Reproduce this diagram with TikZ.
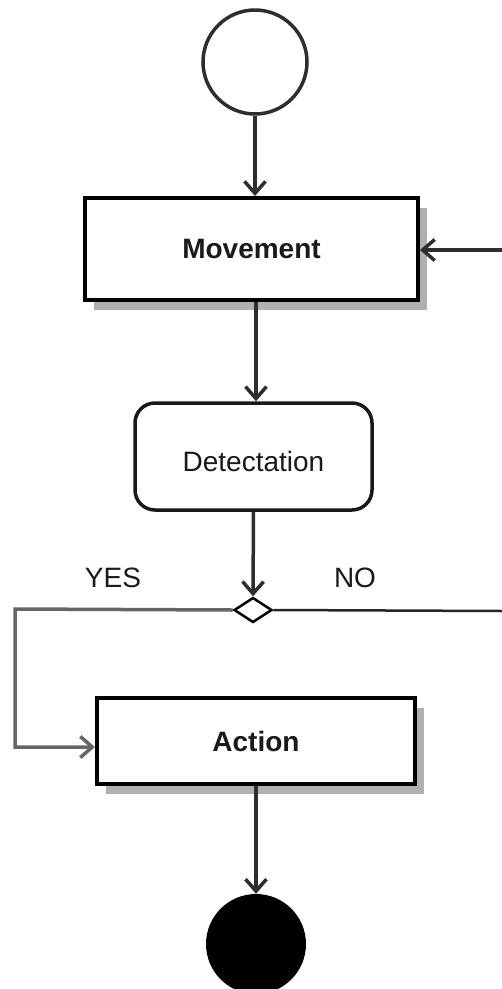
\documentclass[tikz,border=0pt]{standalone}
\usepackage{fontspec}
\setmainfont{Liberation Sans}
\usetikzlibrary{arrows.meta,shapes.geometric,shadows}
\definecolor{ink}{HTML}{1A1A1A}
\definecolor{wire}{HTML}{2E2E2E}
\definecolor{shade}{HTML}{B0B0B0}
\begin{document}
\begin{tikzpicture}[x=1pt,y=-1pt,
  font=\fontsize{28}{33}\selectfont, text=ink,
  boxshadow/.style={drop shadow={shadow xshift=9pt,shadow yshift=-10pt,fill=shade,opacity=1}},
  actbox/.style={draw=black,line width=4pt,fill=white,inner sep=0pt,boxshadow,font=\fontsize{28}{33}\selectfont\bfseries},
  roundbox/.style={draw=black!90,line width=3.5pt,fill=white,rounded corners=20pt,inner sep=0pt},
  flow/.style={draw=wire,line width=3.5pt,-{Straight Barb[length=12pt,width=21pt,line width=3.5pt]}},
  yesflow/.style={draw=black!60,line width=3.5pt,-{Straight Barb[length=12pt,width=21pt,line width=3.5pt]}},
  noline/.style={draw=black!85,line width=2.5pt},
  lbl/.style={inner sep=0pt}]
  \useasboundingbox (0,0) rectangle (502,989);
  \clip (0,0) rectangle (502,989);

  % initial and final states
  \node[circle,draw=wire,line width=3.5pt,fill=white,minimum size=104pt,inner sep=0pt] (start) at (255,62) {};
  \node[circle,fill=black,minimum size=100pt,inner sep=0pt] (stop) at (256,944) {};

  % activities
  \node[actbox,minimum width=333pt,minimum height=102pt] (mov) at (251.5,249) {Movement};
  \node[roundbox,minimum width=237pt,minimum height=107pt,text height=31pt] (det) at (253.5,456.5) {Detectation};
  \node[actbox,minimum width=318pt,minimum height=86pt] (act) at (256,741) {Action};

  % decision
  \node[diamond,draw=black,line width=2.5pt,fill=white,minimum width=38pt,minimum height=25pt,inner sep=0pt,aspect=1.5] (dec) at (253,610) {};

  % guard labels
  \node[lbl] (yes) at (113,578) {YES};
  \node[lbl] (no) at (355,578) {NO};

  % loose ends at the right border and the left bend
  \coordinate (back) at (502,250);
  \coordinate (noend) at (502,611);
  \coordinate (bend) at (15,609);

  % connectors
  \draw[flow] (start.south) -- (start.south |- mov.north);
  \draw[flow] (back) -- (mov.east |- back);
  \draw[flow] ([xshift=2.5pt]mov.south -| det.north) -- ([xshift=2.5pt]det.north);
  \draw[flow] (det.south) -- (dec.north);
  \draw[noline] (dec.east) -- (noend);
  \draw[yesflow] (dec.west) -- (bend) |- ([yshift=-6pt]act.west);
  \draw[flow] (act.south) -- (act.south |- stop.north);
\end{tikzpicture}
\end{document}
